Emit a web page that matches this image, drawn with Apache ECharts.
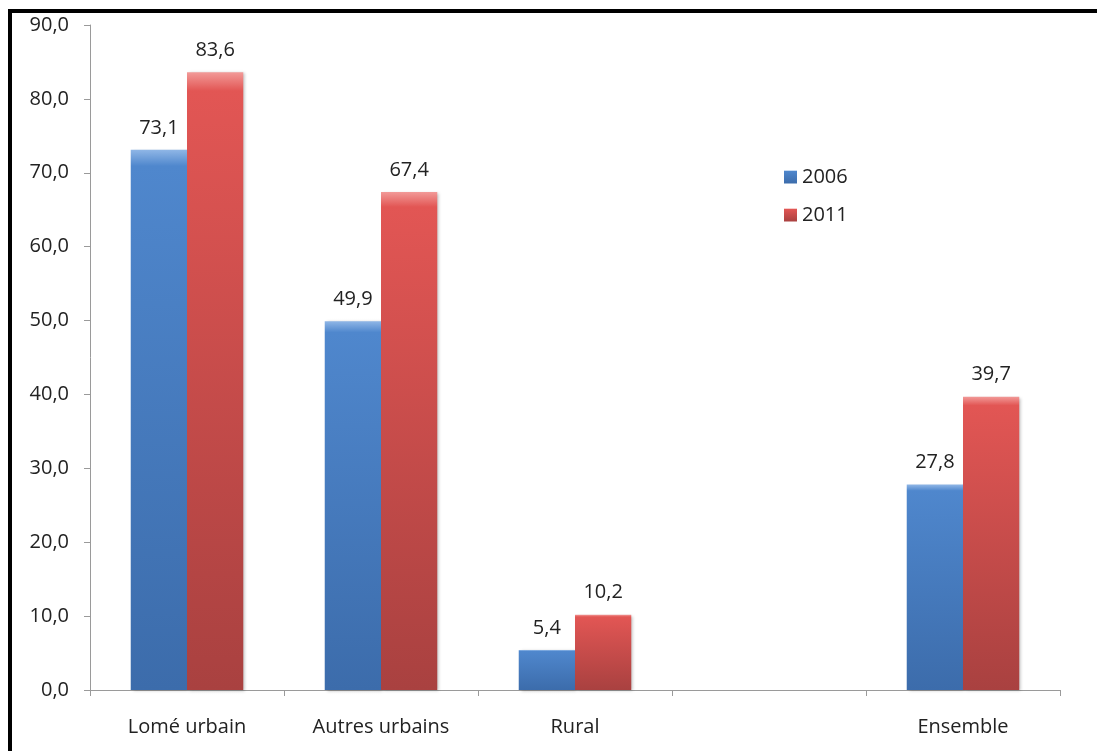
<!DOCTYPE html>
<html>
<head>
<meta charset="utf-8">
<script src="https://cdn.jsdelivr.net/npm/echarts@6/dist/echarts.min.js"></script>
<style>
  html, body { margin: 0; padding: 0; background: #ffffff; }
  #chart { width: 1097px; height: 751px; }
</style>
</head>
<body>
<div id="chart"></div>
<script>
// Categories (the fourth slot is intentionally left empty)
const categories = ['Lomé urbain', 'Autres urbains', 'Rural', '', 'Ensemble'];
const values2006 = [73.1, 49.9, 5.4, '-', 27.8];
const values2011 = [83.6, 67.4, 10.2, '-', 39.7];
const seriesNames = ['2006', '2011'];

const FONT = '"Open Sans", Lato, sans-serif';
const FS = 20;
const fmt = v => Number(v).toFixed(1).replace('.', ',');

function barFill(light, top, bottom) {
  return new echarts.graphic.LinearGradient(0, 0, 0, 1, [
    { offset: 0, color: light },
    { offset: 0.03, color: top },
    { offset: 1, color: bottom }
  ]);
}

const chart = echarts.init(document.getElementById('chart'), null, { renderer: 'canvas' });

const labelStyle = {
  show: true,
  position: 'top',
  distance: 12,
  fontFamily: FONT,
  fontSize: FS,
  color: '#222222',
  formatter: p => fmt(p.value)
};

chart.setOption({
  animation: false,
  backgroundColor: '#ffffff',
  grid: { left: 90, right: 37, top: 25, bottom: 61 },
  legend: {
    orient: 'vertical',
    left: 779,
    top: 162,
    itemWidth: 13,
    itemHeight: 13,
    itemGap: 18,
    icon: 'rect',
    textStyle: { fontFamily: FONT, fontSize: FS, color: '#222222' },
    data: seriesNames
  },
  xAxis: {
    type: 'category',
    data: categories,
    axisLine: { lineStyle: { color: '#9a9a9a', width: 1 } },
    axisTick: { show: true, alignWithLabel: false, length: 6, lineStyle: { color: '#9a9a9a' } },
    axisLabel: { margin: 27, fontFamily: FONT, fontSize: FS, color: '#222222' },
    splitLine: { show: false }
  },
  yAxis: {
    type: 'value',
    min: 0,
    max: 90,
    interval: 10,
    axisLine: { show: true, lineStyle: { color: '#9a9a9a', width: 1 } },
    axisTick: { show: true, length: 6, lineStyle: { color: '#9a9a9a' } },
    axisLabel: { margin: 21, fontFamily: FONT, fontSize: FS, color: '#222222', formatter: v => fmt(v) },
    splitLine: { show: false }
  },
  series: [
    {
      name: seriesNames[0],
      type: 'bar',
      data: values2006,
      barGap: '0%',
      barCategoryGap: '42%',
      itemStyle: {
        color: barFill('#8fb6e6', '#4f87cd', '#3c6cab'),
        shadowBlur: 3,
        shadowOffsetX: 2,
        shadowOffsetY: 1,
        shadowColor: 'rgba(0,0,0,0.25)'
      },
      label: labelStyle
    },
    {
      name: seriesNames[1],
      type: 'bar',
      data: values2011,
      itemStyle: {
        color: barFill('#f29a98', '#e25654', '#a94140'),
        shadowBlur: 3,
        shadowOffsetX: 2,
        shadowOffsetY: 1,
        shadowColor: 'rgba(0,0,0,0.25)'
      },
      label: labelStyle
    }
  ],
  graphic: [
    {
      type: 'rect',
      silent: true,
      z: 100,
      shape: { x: 10, y: 11, width: 1200, height: 1000 },
      style: { fill: 'none', stroke: '#000000', lineWidth: 4 }
    }
  ]
});
</script>
</body>
</html>
